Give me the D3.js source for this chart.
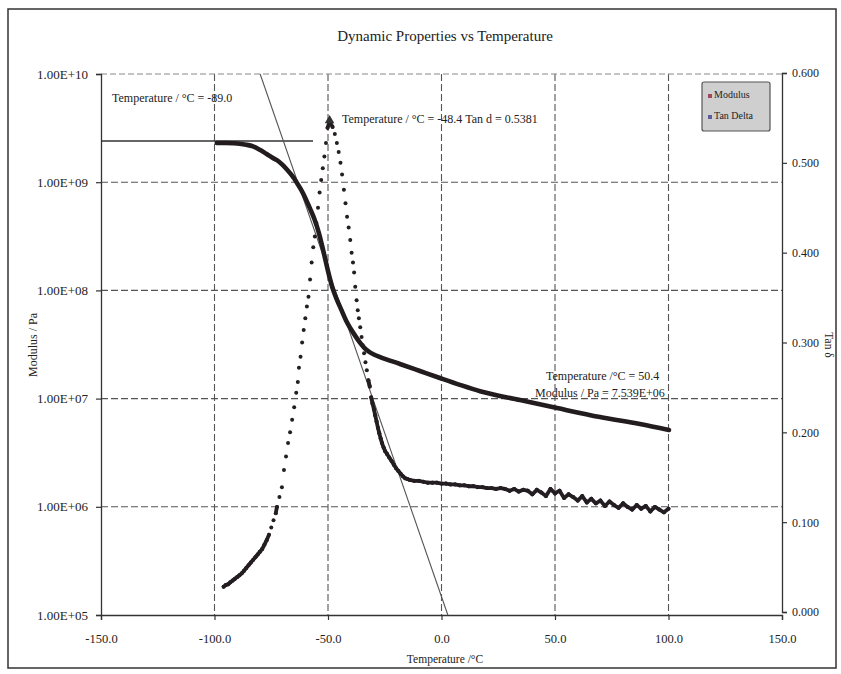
<!DOCTYPE html>
<html><head><meta charset="utf-8">
<script src="https://cdn.jsdelivr.net/npm/d3@7"></script>
<style>
body{margin:0;background:#fff}
svg{display:block}
text{font-family:"Liberation Serif","Times New Roman",serif;fill:#222}
</style>
</head><body>
<svg id="c" width="841" height="674"></svg>
<script>
// ---------- data ----------
const xTicks = [-150, -100, -50, 0, 50, 100, 150];
const xTickLabels = ["-150.0", "-100.0", "-50.0", "0.0", "50.0", "100.0", "150.0"];
const modTicks = [1e5, 1e6, 1e7, 1e8, 1e9, 1e10];
const modTickLabels = ["1.00E+05", "1.00E+06", "1.00E+07", "1.00E+08", "1.00E+09", "1.00E+10"];
const tanTicks = [0, 0.1, 0.2, 0.3, 0.4, 0.5, 0.6];
const tanTickLabels = ["0.000", "0.100", "0.200", "0.300", "0.400", "0.500", "0.600"];

const modTemps = [-99, -95, -92, -89, -86, -83, -80, -77, -74, -72.5, -70, -68, -66, -64, -62, -60, -58, -56, -54,
  -52, -50, -48, -46, -44, -42, -40, -38, -36, -34, -32, -30, -27, -18.3, -9.5, -0.7, 8.1, 17, 34.6, 50.9, 69.8,
  87.4, 100.2];
const modValues = [2.30e9, 2.30e9, 2.29e9, 2.27e9, 2.22e9, 2.14e9, 1.99e9, 1.82e9, 1.66e9, 1.60e9, 1.445e9, 1.303e9,
  1.161e9, 1.012e9, 8.61e8, 7.16e8, 5.75e8, 4.57e8, 3.39e8, 2.29e8, 1.51e8, 1.05e8, 8.13e7, 6.53e7, 5.25e7, 4.42e7,
  3.80e7, 3.31e7, 2.95e7, 2.72e7, 2.57e7, 2.42e7, 2.09e7, 1.80e7, 1.55e7, 1.34e7, 1.17e7, 9.70e6, 8.18e6, 6.76e6,
  5.82e6, 5.13e6];

const tanTemps = [
  -96, -95, -94, -93, -92, -91, -90, -89, -88, -87, -86, -85, -84, -83, -82, -81, -80, -79, -78, -77, -76, -75, -74, -73,
  -72.5, -71.4, -70.3, -69.4, -68.5, -67.6, -66.7, -65.8, -64.9, -64.0, -63.3,
  -62.8, -62.1, -61.4, -60.7, -60.0, -59.3, -58.6, -57.9, -57.2, -56.5, -55.8, -55.1, -54.4, -53.7, -53.0, -52.3,
  -51.6, -50.9, -50.2, -49.3,
  -48.0, -47.0, -46.1, -45.3, -44.5, -43.8, -43.0, -42.3, -41.6, -40.9, -40.2, -39.6, -39.0, -38.5, -38.0, -37.4,
  -36.9, -36.4, -35.8, -35.2, -34.7, -34.1, -33.5, -32.9, -32.2, -31.6, -31.0,
  -30.4, -29.8, -29.2, -28.6, -28.0, -27.4, -26.8, -26.2, -25.5, -24.8, -24.0, -23.0, -22.0, -21.0, -20.0, -19.0,
  -18.0, -17.0, -16, -15, -14, -12, -10, -8, -6, -4, -2, 0,
  2, 4, 6, 8, 10, 12, 14, 16, 18, 20, 22, 24, 26, 28, 30, 32, 34, 36, 38, 40, 42, 44, 46, 48, 50, 52, 54, 56, 58, 60,
  62, 64, 66, 68, 70, 72, 74, 76, 78, 80, 82, 84, 86, 88, 90, 92, 94, 96, 98, 100];
const tanValues = [
  0.028, 0.030, 0.031, 0.033, 0.035, 0.037, 0.039, 0.041, 0.043, 0.046, 0.049, 0.052, 0.055, 0.058, 0.061, 0.064,
  0.067, 0.070, 0.075, 0.080, 0.086, 0.094, 0.102, 0.110,
  0.117, 0.128, 0.139, 0.158, 0.173, 0.188, 0.200, 0.214, 0.228, 0.244, 0.256,
  0.272, 0.284, 0.300, 0.314, 0.327, 0.340, 0.351, 0.370, 0.389, 0.406, 0.418, 0.433, 0.450, 0.467, 0.481, 0.494,
  0.507, 0.522, 0.539, 0.546,
  0.540, 0.532, 0.522, 0.512, 0.500, 0.487, 0.470, 0.455, 0.440, 0.428, 0.414, 0.400, 0.389, 0.378, 0.362, 0.347,
  0.336, 0.327, 0.317, 0.306, 0.297, 0.288, 0.278, 0.269, 0.258, 0.251, 0.239,
  0.232, 0.226, 0.219, 0.212, 0.205, 0.199, 0.193, 0.188, 0.183, 0.179, 0.176, 0.172, 0.168, 0.164, 0.160, 0.157,
  0.154, 0.151, 0.149, 0.148, 0.147, 0.146, 0.146, 0.145, 0.144, 0.144, 0.144, 0.143,
  0.143, 0.142, 0.142, 0.141, 0.141, 0.140, 0.140, 0.139, 0.139, 0.138, 0.138, 0.137, 0.138, 0.137, 0.135, 0.137,
  0.134, 0.136, 0.135, 0.131, 0.136, 0.133, 0.129, 0.137, 0.132, 0.135, 0.127, 0.131, 0.128, 0.124, 0.129, 0.122,
  0.126, 0.121, 0.124, 0.118, 0.123, 0.119, 0.116, 0.121, 0.117, 0.114, 0.119, 0.115, 0.118, 0.112, 0.117, 0.114,
  0.111, 0.115];

const tangentFlat = [[-150, 2.4e9], [-56.6, 2.4e9]];
const tangentSteep = [[-79.9, 1e10], [2.8, 1e5]];

const titleText = "Dynamic Properties vs Temperature";
const xTitle = "Temperature /\u00B0C";
const yTitle = "Modulus / Pa";
const y2Title = "Tan \u03B4";
const legendLabels = ["Modulus", "Tan Delta"];
const noteOnset = "Temperature / \u00B0C = -89.0";
const notePeak = "Temperature / \u00B0C = -48.4 Tan d = 0.5381";
const noteEnd1 = "Temperature /\u00B0C = 50.4";
const noteEnd2 = "Modulus / Pa = 7.539E+06";

// ---------- scales ----------
const svg = d3.select("#c");
const x = d3.scaleLinear().domain([-150, 150]).range([101, 782]);
const yMod = d3.scaleLog().domain([1e5, 1e10]).range([615, 74]);
const yTan = d3.scaleLinear().domain([0, 0.6]).range([612, 73]);

// outer frame
svg.append("rect").attr("x", 8).attr("y", 9).attr("width", 828).attr("height", 659)
  .attr("fill", "none").attr("stroke", "#333").attr("stroke-width", 1.5);

// gridlines
const grid = svg.append("g").attr("stroke", "#555").attr("stroke-width", 1.1).attr("stroke-dasharray", "7,3");
grid.selectAll(".hg").data([1e6, 1e7, 1e8, 1e9]).join("line")
  .attr("x1", x(-150)).attr("x2", x(150)).attr("y1", d => yMod(d)).attr("y2", d => yMod(d));
grid.selectAll(".vg").data([-100, -50, 0, 50, 100]).join("line")
  .attr("y1", yMod(1e10)).attr("y2", yMod(1e5)).attr("x1", d => x(d)).attr("x2", d => x(d));
svg.append("line").attr("x1", x(-150)).attr("x2", x(150)).attr("y1", yMod(1e10)).attr("y2", yMod(1e10))
  .attr("stroke", "#888").attr("stroke-width", 1).attr("stroke-dasharray", "6,3");

// axes
const axL = d3.axisLeft(yMod).tickValues(modTicks).tickFormat((d, i) => modTickLabels[i]).tickSize(5).tickPadding(8);
const axB = d3.axisBottom(x).tickValues(xTicks).tickFormat((d, i) => xTickLabels[i]).tickSize(5).tickPadding(14);
const axR = d3.axisRight(yTan).tickValues(tanTicks).tickFormat((d, i) => tanTickLabels[i]).tickSize(5).tickPadding(5);
function styleAxis(g, fs) {
  g.select(".domain").attr("stroke", "#333").attr("stroke-width", 1.3);
  g.selectAll(".tick line").attr("stroke", "#333").attr("stroke-width", 1.2);
  g.selectAll(".tick text").attr("font-family", "Liberation Serif, serif").attr("font-size", fs).attr("fill", "#222");
}
svg.append("g").attr("transform", `translate(${x(-150)},0)`).call(axL).call(styleAxis, 13);
svg.append("g").attr("transform", `translate(0,${yMod(1e5)})`).call(axB).call(styleAxis, 12.5);
svg.append("g").attr("transform", `translate(${x(150)},0)`).call(axR).call(styleAxis, 12);

// tangent lines
const tl = d3.line().x(d => x(d[0])).y(d => yMod(d[1]));
svg.append("path").attr("d", tl(tangentFlat)).attr("stroke", "#333").attr("stroke-width", 1.6).attr("fill", "none");
svg.append("path").attr("d", tl(tangentSteep)).attr("stroke", "#555").attr("stroke-width", 1.1).attr("fill", "none");

// modulus curve
const modData = modTemps.map((t, i) => [t, modValues[i]]);
svg.append("path")
  .attr("d", d3.line().x(d => x(d[0])).y(d => yMod(d[1])).curve(d3.curveMonotoneX)(modData))
  .attr("fill", "none").attr("stroke", "#221c1e").attr("stroke-width", 4.6).attr("stroke-linecap", "round");

// tan delta: dots, joined where they are dense
const tanData = tanTemps.map((t, i) => [x(t), yTan(tanValues[i])]);
const segs = [];
for (let i = 1; i < tanData.length; i++) {
  const a = tanData[i - 1], b = tanData[i];
  const dx = Math.abs(b[0] - a[0]);
  if (dx >= 4 || Math.hypot(dx, b[1] - a[1]) < 7.5) segs.push([a, b]);
}
svg.append("g").selectAll("line").data(segs).join("line")
  .attr("x1", d => d[0][0]).attr("y1", d => d[0][1]).attr("x2", d => d[1][0]).attr("y2", d => d[1][1])
  .attr("stroke", "#241e22").attr("stroke-width", 3.8).attr("stroke-linecap", "round");
svg.append("g").selectAll("circle").data(tanData).join("circle")
  .attr("cx", d => d[0]).attr("cy", d => d[1]).attr("r", 2).attr("fill", "#241e22");
// peak marker
let pk = 0; tanValues.forEach((v, i) => { if (v > tanValues[pk]) pk = i; });
svg.append("path").attr("d", d3.symbol().type(d3.symbolTriangle).size(40)())
  .attr("transform", `translate(${x(tanTemps[pk])},${yTan(tanValues[pk]) - 1})`).attr("fill", "#333");

// annotations
svg.append("text").attr("x", 112).attr("y", 102).attr("font-size", 12).text(noteOnset);
svg.append("text").attr("x", 342).attr("y", 123).attr("font-size", 12).text(notePeak);
svg.append("text").attr("x", 546).attr("y", 380).attr("font-size", 12).text(noteEnd1);
svg.append("text").attr("x", 535).attr("y", 397).attr("font-size", 12).text(noteEnd2);

// titles
svg.append("text").attr("x", 445).attr("y", 41).attr("text-anchor", "middle").attr("font-size", 15).text(titleText);
svg.append("text").attr("x", 445).attr("y", 663).attr("text-anchor", "middle").attr("font-size", 11.5).text(xTitle);
svg.append("text").attr("transform", "translate(37,345) rotate(-90)").attr("text-anchor", "middle")
  .attr("font-size", 12).text(yTitle);
svg.append("text").attr("transform", "translate(825,345) rotate(90)").attr("text-anchor", "middle")
  .attr("font-size", 11.5).text(y2Title);

// legend
const lg = svg.append("g");
lg.append("rect").attr("x", 702).attr("y", 82).attr("width", 68).attr("height", 49)
  .attr("fill", "#cfcfcf").attr("stroke", "#555").attr("stroke-width", 1.2).attr("rx", 2);
const legendColors = ["#a0485a", "#5e5a9c"];
legendLabels.forEach((l, i) => {
  const yy = 98 + i * 21;
  lg.append("rect").attr("x", 708).attr("y", yy - 4).attr("width", 4).attr("height", 4).attr("fill", legendColors[i]);
  lg.append("text").attr("x", 714).attr("y", yy).attr("font-size", 10).attr("fill", legendColors[i]).text(l);
});
</script>
</body></html>
